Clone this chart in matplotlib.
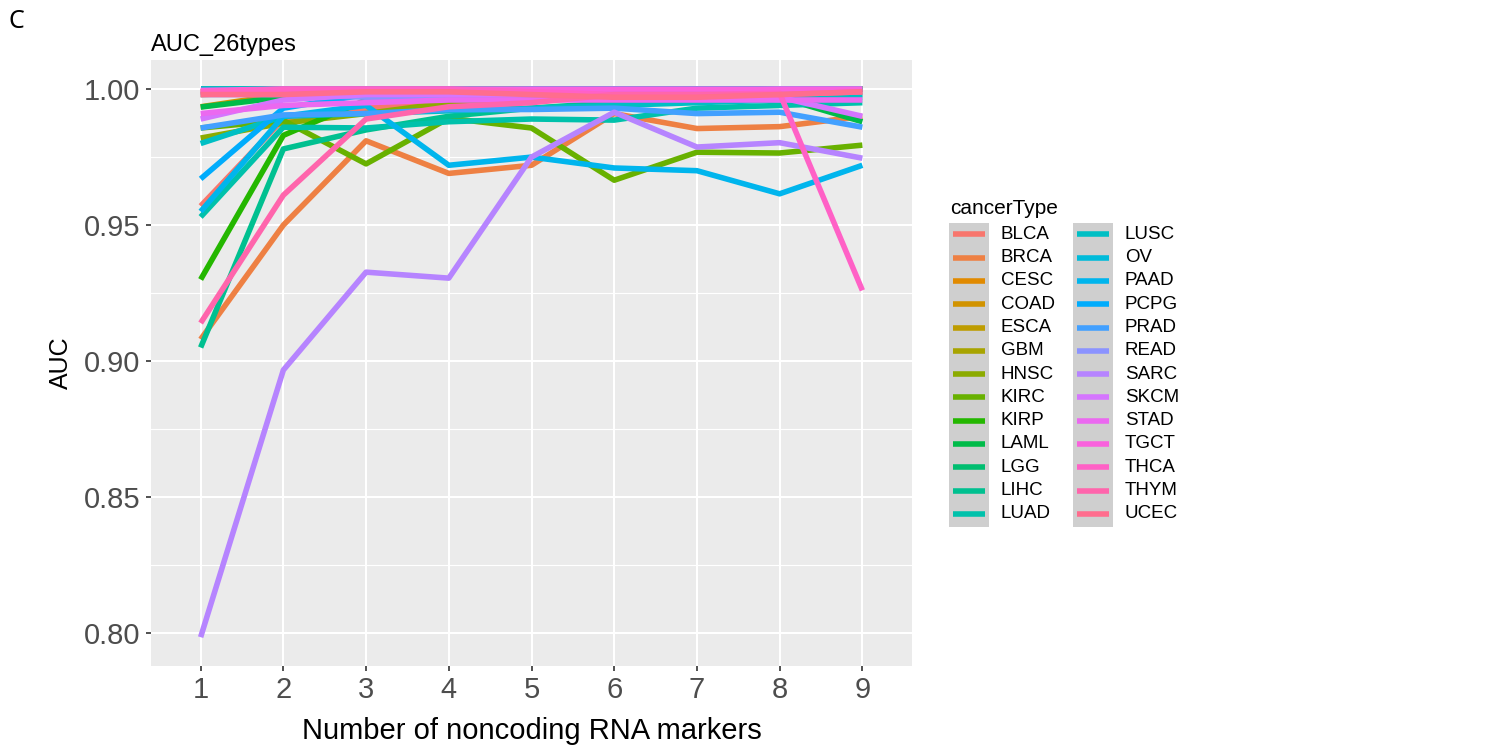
import numpy as np
import matplotlib
matplotlib.use("Agg")
import matplotlib.pyplot as plt
from matplotlib.patches import Rectangle
from matplotlib.lines import Line2D

plt.rcParams['font.family'] = ['Liberation Sans', 'DejaVu Sans']

# number of markers on the x axis
markers = [1, 2, 3, 4, 5, 6, 7, 8, 9]

cancer_types = ['BLCA', 'BRCA', 'CESC', 'COAD', 'ESCA', 'GBM', 'HNSC', 'KIRC', 'KIRP',
                'LAML', 'LGG', 'LIHC', 'LUAD', 'LUSC', 'OV', 'PAAD', 'PCPG', 'PRAD',
                'READ', 'SARC', 'SKCM', 'STAD', 'TGCT', 'THCA', 'THYM', 'UCEC']

BLCA = [0.957, 0.989, 0.993, 0.995, 0.996, 0.997, 0.997, 0.998, 0.999]
BRCA = [0.908, 0.950, 0.981, 0.969, 0.972, 0.991, 0.9855, 0.9862, 0.990]
CESC = [0.999, 1.0, 1.0, 1.0, 1.0, 1.0, 1.0, 1.0, 1.0]
COAD = [0.9935, 0.998, 0.999, 1.0, 1.0, 1.0, 1.0, 1.0, 1.0]
ESCA = [0.998, 0.999, 1.0, 1.0, 1.0, 1.0, 1.0, 1.0, 1.0]
GBM = [1.0, 1.0, 1.0, 1.0, 1.0, 1.0, 1.0, 1.0, 1.0]
HNSC = [0.982, 0.9875, 0.991, 0.995, 0.997, 0.998, 0.999, 0.999, 1.0]
KIRC = [0.9857, 0.9885, 0.9725, 0.9893, 0.9857, 0.9665, 0.9768, 0.9765, 0.9794]
KIRP = [0.930, 0.983, 0.996, 0.998, 0.999, 0.999, 1.0, 1.0, 1.0]
LAML = [0.9934, 0.997, 0.998, 0.998, 0.998, 0.998, 0.998, 0.997, 0.988]
LGG = [1.0, 1.0, 1.0, 1.0, 1.0, 1.0, 1.0, 1.0, 1.0]
LIHC = [0.905, 0.978, 0.985, 0.990, 0.993, 0.995, 0.996, 0.997, 0.998]
LUAD = [0.953, 0.986, 0.9857, 0.988, 0.989, 0.9886, 0.993, 0.994, 0.995]
LUSC = [0.980, 0.990, 0.991, 0.992, 0.993, 0.994, 0.995, 0.996, 0.997]
OV = [1.0, 1.0, 1.0, 1.0, 1.0, 1.0, 1.0, 1.0, 1.0]
PAAD = [0.955, 0.990, 0.994, 0.972, 0.975, 0.971, 0.970, 0.9615, 0.972]
PCPG = [0.967, 0.993, 0.998, 0.999, 1.0, 1.0, 1.0, 1.0, 1.0]
PRAD = [0.9857, 0.9905, 0.991, 0.9925, 0.9925, 0.993, 0.991, 0.9915, 0.986]
READ = [0.998, 0.998, 0.997, 0.997, 0.998, 0.999, 0.999, 1.0, 1.0]
SARC = [0.7985, 0.8967, 0.9327, 0.9305, 0.975, 0.9915, 0.9787, 0.9803, 0.9746]
SKCM = [0.989, 0.996, 0.998, 0.998, 0.998, 0.998, 0.998, 0.997, 0.990]
STAD = [0.991, 0.994, 0.995, 0.996, 0.996, 0.996, 0.996, 0.996, 0.996]
TGCT = [0.9995, 1.0, 1.0, 1.0, 1.0, 1.0, 1.0, 1.0, 1.0]
THCA = [0.999, 1.0, 1.0, 1.0, 0.999, 0.998, 0.998, 0.9985, 0.926]
THYM = [0.914, 0.961, 0.989, 0.9935, 0.995, 0.998, 0.998, 0.998, 0.999]
UCEC = [0.998, 0.998, 0.999, 0.999, 0.998, 0.997, 0.997, 0.998, 0.999]

auc = [BLCA, BRCA, CESC, COAD, ESCA, GBM, HNSC, KIRC, KIRP, LAML, LGG, LIHC, LUAD,
       LUSC, OV, PAAD, PCPG, PRAD, READ, SARC, SKCM, STAD, TGCT, THCA, THYM, UCEC]

y_ticks = [0.80, 0.85, 0.90, 0.95, 1.00]


def hcl_colors(n, l=65, c=100):
    # ggplot2 default hue palette (polar Luv -> sRGB)
    hues = np.linspace(15, 375, n + 1)[:n]
    xn, yn, zn = 95.047, 100.0, 108.883
    un = 4 * xn / (xn + 15 * yn + 3 * zn)
    vn = 9 * yn / (xn + 15 * yn + 3 * zn)
    out = []
    for h in hues:
        u = c * np.cos(np.radians(h))
        v = c * np.sin(np.radians(h))
        Y = yn * ((l + 16) / 116) ** 3
        up = u / (13 * l) + un
        vp = v / (13 * l) + vn
        X = Y * 9 * up / (4 * vp)
        Z = Y * (12 - 3 * up - 20 * vp) / (4 * vp)
        xyz = np.array([X, Y, Z]) / 100
        m = np.array([[3.2404542, -1.5371385, -0.4985314],
                      [-0.9692660, 1.8760108, 0.0415560],
                      [0.0556434, -0.2040259, 1.0572252]])
        rgb = m @ xyz
        rgb = np.where(rgb <= 0.0031308, 12.92 * rgb, 1.055 * np.clip(rgb, 0, None) ** (1 / 2.4) - 0.055)
        out.append(tuple(np.clip(rgb, 0, 1)))
    return out


colors = hcl_colors(len(cancer_types))

W, H = 1504, 747
fig = plt.figure(figsize=(W / 100, H / 100), dpi=100)
ax = fig.add_axes([151 / W, 1 - 666 / H, 761 / W, 606 / H])
ax.set_facecolor('#EBEBEB')
for s in ax.spines.values():
    s.set_visible(False)

for name, vals, col in zip(cancer_types, auc, colors):
    ax.plot(markers, vals, color=col, lw=4, solid_capstyle='butt', label=name)

ax.set_xlim(0.4, 9.6)
ax.set_ylim(0.7879, 1.0107)
ax.set_xticks(markers)
ax.set_yticks(y_ticks)
ax.set_yticklabels(['%.2f' % t for t in y_ticks])
ax.set_yticks([0.825, 0.875, 0.925, 0.975], minor=True)
ax.grid(True, which='major', color='white', lw=1.5)
ax.grid(True, which='minor', axis='y', color='white', lw=0.8)
ax.set_axisbelow(True)
ax.tick_params(which='major', length=3.5, width=1.2, color='#333333',
               labelcolor='#4D4D4D', labelsize=21, pad=4)
ax.tick_params(which='minor', length=0)
ax.set_xlabel('Number of noncoding RNA markers', fontsize=21, va='center')
ax.xaxis.set_label_coords(0.5, (666 - 731) / 606)
ax.set_ylabel('AUC', fontsize=18, labelpad=8)

fig.text(151 / W, 1 - 45 / H, 'AUC_26types', fontsize=17, ha='left', va='center')
fig.text(8 / W, 1 - 22 / H, 'C', fontsize=18, ha='left', va='center',
         family=['Noto Sans', 'DejaVu Sans'])

# legend drawn by hand in pixel space
lax = fig.add_axes([0, 0, 1, 1])
lax.set_xlim(0, W)
lax.set_ylim(H, 0)
lax.axis('off')
lax.text(950, 209, 'cancerType', fontsize=15, ha='left', va='center')
nrow = 13
row0, step = 234.3, 23.3
for col_i, x0 in enumerate([949, 1073]):
    lax.add_patch(Rectangle((x0, 223), 40, 304, color='#CFCFCF', lw=0))
    for r in range(nrow):
        k = col_i * nrow + r
        y = row0 + r * step
        lax.add_line(Line2D([x0 + 4, x0 + 36], [y, y], color=colors[k], lw=4,
                            solid_capstyle='butt'))
        lax.text(x0 + 52, y, cancer_types[k], fontsize=13.5, ha='left', va='center')

fig.savefig('out.png', dpi=100)
